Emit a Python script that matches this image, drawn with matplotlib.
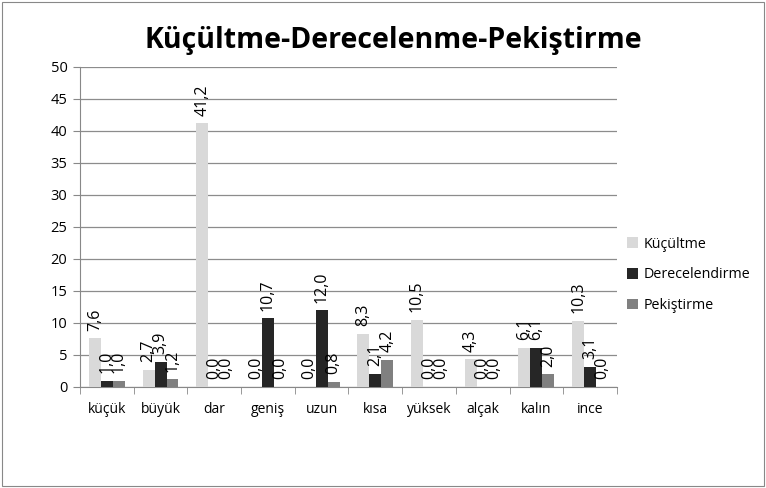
import numpy as np
import matplotlib.pyplot as plt
from matplotlib.patches import Rectangle

plt.rcParams['font.family'] = ['Open Sans', 'DejaVu Sans']

categories = ['küçük', 'büyük', 'dar', 'geniş', 'uzun', 'kısa', 'yüksek', 'alçak', 'kalın', 'ince']
series_names = ['Küçültme', 'Derecelendirme', 'Pekiştirme']
kucultme = [7.6, 2.7, 41.2, 0.0, 0.0, 8.3, 10.5, 4.3, 6.1, 10.3]
derecelendirme = [1.0, 3.9, 0.0, 10.7, 12.0, 2.1, 0.0, 0.0, 6.1, 3.1]
pekistirme = [1.0, 1.2, 0.0, 0.0, 0.8, 4.2, 0.0, 0.0, 2.0, 0.0]
colors = ['#d9d9d9', '#262626', '#808080']

fig = plt.figure(figsize=(7.66, 4.88), dpi=100)
fig.patches.append(Rectangle((0.002, 0.004), 0.995, 0.992, transform=fig.transFigure,
                             fill=False, edgecolor='#888888', linewidth=0.8))
ax = fig.add_axes([0.1044, 0.207, 0.701, 0.656])

x = np.arange(len(categories))
w = 0.223
for i, (vals, name, c) in enumerate(zip([kucultme, derecelendirme, pekistirme], series_names, colors)):
    pos = x + (i - 1) * w
    ax.bar(pos, vals, w, color=c, label=name, zorder=3)
    for xp, v in zip(pos, vals):
        ax.annotate(f'{v:.1f}'.replace('.', ','), (xp, v), xytext=(0, 5.5),
                    textcoords='offset points', rotation=90, ha='center', va='bottom',
                    fontsize=11.5, zorder=4)

ax.set_xlim(-0.5, len(categories) - 0.5)
ax.set_ylim(0, 50)
ax.set_yticks(np.arange(0, 51, 5))
ax.yaxis.grid(True, color='#8c8c8c', linewidth=0.9, zorder=0)
ax.set_axisbelow(True)
ax.set_xticks(x)
ax.set_xticklabels(categories)
ax.set_xticks(np.arange(-0.5, len(categories), 1), minor=True)
ax.tick_params(axis='x', which='major', length=0, pad=11, labelsize=10)
ax.tick_params(axis='x', which='minor', length=5, color='#888888')
ax.tick_params(axis='y', length=5, color='#888888', labelsize=10.5, pad=4)
for s in ['top', 'right']:
    ax.spines[s].set_visible(False)
ax.spines['left'].set_color('#888888')
ax.spines['bottom'].set_color('#888888')

fig.text(0.513, 0.918, 'Küçültme-Derecelenme-Pekiştirme', ha='center', va='center',
         fontsize=20.5, fontweight='bold')
ax.legend(loc='center left', bbox_to_anchor=(0.995, 0.35), frameon=False, fontsize=10.3,
          handlelength=0.75, handleheight=0.75, handletextpad=0.4, labelspacing=1.1,
          borderaxespad=0.5)

fig.savefig('out.png', dpi=100)
